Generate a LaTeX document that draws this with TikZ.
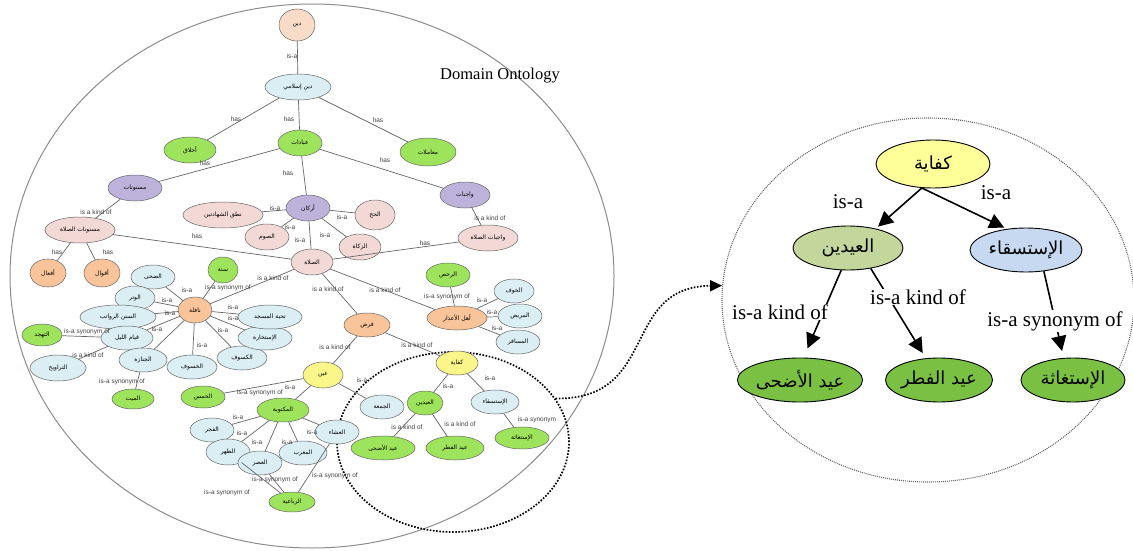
\documentclass[tikz,border=0pt]{standalone}
\usepackage{fontspec}
\setmainfont{Liberation Serif}
\setsansfont{Liberation Sans}
\newfontfamily\arabicfont[Script=Arabic]{DejaVu Sans}
\TeXXeTstate=1
\usetikzlibrary{shapes.geometric,arrows.meta}
\newcommand{\artx}[1]{{\arabicfont\beginR #1\endR}}
\definecolor{cpeach}{HTML}{F8DCC8}
\definecolor{cblue}{HTML}{DAEEF3}
\definecolor{cgreen}{HTML}{9EE35C}
\definecolor{cpurple}{HTML}{BDB3DA}
\definecolor{cpink}{HTML}{F3D9D6}
\definecolor{corange}{HTML}{F9C49A}
\definecolor{cyellow}{HTML}{FBF68A}
\definecolor{ryellow}{HTML}{FFFF99}
\definecolor{rolive}{HTML}{C3D69B}
\definecolor{rblue}{HTML}{C6D9F1}
\definecolor{rgreen}{HTML}{7AC143}
\tikzset{
  ln/.style={ellipse, draw=black!60, line width=0.5pt, inner sep=0pt,
    font=\arabicfont\fontsize{6}{6.5}\selectfont},
  sz/.style 2 args={minimum width=#1pt, minimum height=#2pt},
  le/.style={draw=black!60, line width=0.7pt},
  lbl/.style={font=\sffamily\fontsize{6.5}{7}\selectfont, text=black!75, inner sep=0.5pt},
  rn/.style={ellipse, draw=black, line width=0.9pt, inner sep=0pt,
    font=\arabicfont\fontsize{18}{20}\selectfont},
  rarr/.style={line width=1.6pt, -{Triangle[length=15pt,width=15pt]}},
  rlbl/.style={font=\fontsize{21}{24}\selectfont, fill=white, inner sep=1pt},
}
\begin{document}
\begin{tikzpicture}[x=1pt,y=-1pt]
\useasboundingbox[fill=white] (0,0) rectangle (1133,551);
% big circles
\node[ellipse, draw=black!45, line width=1pt, minimum width=604pt, minimum height=544pt] (lc) at (312,276) {};
\node[ellipse, draw=black!60, line width=1.1pt, dash pattern=on 1pt off 1pt, minimum width=412pt, minimum height=364pt] (rc) at (928,300) {};
\node[ellipse, draw=black, line width=1.7pt, dash pattern=on 1.6pt off 1.6pt, minimum width=232pt, minimum height=180pt] (dotE) at (453,442) {};
\node[font=\fontsize{16.5}{18}\selectfont] (title) at (500,76) {Domain Ontology};

% ---------- left ontology nodes ----------
\node[ln,fill=cpeach,sz={36}{32}] (din) at (297,25) {\artx{دين}};
\node[ln,fill=cblue,sz={66}{26}] (dinIs) at (298,87) {\artx{دين إسلامي}};
\node[ln,fill=cgreen,sz={52}{26}] (akhlaq) at (190,150) {\artx{أخلاق}};
\node[ln,fill=cgreen,sz={56}{28}] (muamalat) at (428,152) {\artx{معاملات}};
\node[ln,fill=cgreen,sz={44}{26}] (ibadat) at (300,143) {\artx{عبادات}};
\node[ln,fill=cpurple,sz={54}{26}] (masnunat) at (135,188) {\artx{مسنونات}};
\node[ln,fill=cpurple,sz={44}{26}] (arkan) at (308,208) {\artx{أركان}};
\node[ln,fill=cpurple,sz={50}{26}] (wajibat) at (465,195) {\artx{واجبات}};
\node[ln,fill=cpink,sz={80}{26}] (nutq) at (223,215) {\artx{نطق الشهادتين}};
\node[ln,fill=cpink,sz={40}{30}] (hajj) at (375,215) {\artx{الحج}};
\node[ln,fill=cpink,sz={44}{26}] (sawm) at (267,237) {\artx{الصوم}};
\node[ln,fill=cpink,sz={42}{26}] (zakat) at (360,247) {\artx{الزكاة}};
\node[ln,fill=cpink,sz={42}{26}] (salat) at (312,262) {\artx{الصلاة}};
\node[ln,fill=cpink,sz={60}{26}] (wajSalat) at (488,238) {\artx{واجبات الصلاة}};
\node[ln,fill=cpink,sz={70}{26}] (masSalat) at (80,230) {\artx{مسنونات الصلاة}};
\node[ln,fill=corange,sz={36}{28}] (afal) at (48,273) {\artx{أفعال}};
\node[ln,fill=corange,sz={36}{28}] (aqwal) at (102,273) {\artx{أقوال}};
\node[ln,fill=cgreen,sz={30}{26}] (sunna) at (223,270) {\artx{سنة}};
\node[ln,fill=cblue,sz={44}{24}] (duha) at (153,277) {\artx{الضحى}};
\node[ln,fill=cblue,sz={40}{24}] (witr) at (135,298) {\artx{الوتر}};
\node[ln,fill=corange,sz={34}{26}] (nafila) at (195,310) {\artx{نافلة}};
\node[ln,fill=cblue,sz={76}{24}] (rawatib) at (118,317) {\artx{السنن الرواتب}};
\node[ln,fill=cgreen,sz={40}{22}] (tahajjud) at (42,335) {\artx{التهجد}};
\node[ln,fill=cblue,sz={52}{24}] (qiyam) at (127,338) {\artx{قيام الليل}};
\node[ln,fill=cblue,sz={48}{24}] (janaza) at (143,360) {\artx{الجنازة}};
\node[ln,fill=cblue,sz={56}{26}] (tarawih) at (58,368) {\artx{التراويح}};
\node[ln,fill=cblue,sz={50}{24}] (khusuf) at (192,367) {\artx{الخسوف}};
\node[ln,fill=cblue,sz={50}{24}] (kusuf) at (242,358) {\artx{الكسوف}};
\node[ln,fill=cblue,sz={54}{24}] (istikhara) at (265,338) {\artx{الإستخارة}};
\node[ln,fill=cblue,sz={64}{24}] (tahiyya) at (270,317) {\artx{تحية المسجد}};
\node[ln,fill=cgreen,sz={42}{20}] (mayyit) at (133,399) {\artx{الميت}};
\node[ln,fill=cgreen,sz={44}{24}] (rukhas) at (448,275) {\artx{الرخص}};
\node[ln,fill=corange,sz={60}{24}] (ahl) at (457,318) {\artx{أهل الأعذار}};
\node[ln,fill=cblue,sz={40}{24}] (khawf) at (514,291) {\artx{الخوف}};
\node[ln,fill=cblue,sz={44}{24}] (marid) at (520,316) {\artx{المريض}};
\node[ln,fill=cblue,sz={44}{24}] (musafir) at (518,342) {\artx{المسافر}};
\node[ln,fill=corange,sz={46}{24}] (fard) at (367,325) {\artx{فرض}};
\node[ln,fill=cyellow,sz={42}{24}] (kifaya) at (457,363) {\artx{كفاية}};
\node[ln,fill=cyellow,sz={40}{26}] (ayn) at (323,375) {\artx{عين}};
\node[ln,fill=cgreen,sz={44}{22}] (khams) at (203,397) {\artx{الخمس}};
\node[ln,fill=cgreen,sz={52}{24}] (maktuba) at (283,410) {\artx{المكتوبة}};
\node[ln,fill=cblue,sz={44}{24}] (jumua) at (382,407) {\artx{الجمعة}};
\node[ln,fill=cblue,sz={44}{24}] (fajr) at (212,430) {\artx{الفجر}};
\node[ln,fill=cblue,sz={44}{26}] (zuhr) at (228,452) {\artx{الظهر}};
\node[ln,fill=cblue,sz={44}{24}] (asr) at (260,463) {\artx{العصر}};
\node[ln,fill=cblue,sz={48}{24}] (maghrib) at (303,453) {\artx{المغرب}};
\node[ln,fill=cblue,sz={44}{24}] (isha) at (337,432) {\artx{العشاء}};
\node[ln,fill=cgreen,sz={46}{20}] (rubaiya) at (292,502) {\artx{الرباعية}};
\node[ln,fill=cgreen,sz={36}{24}] (idayn) at (425,403) {\artx{العيدين}};
\node[ln,fill=cblue,sz={48}{24}] (istisqa) at (495,402) {\artx{الإستسقاء}};
\node[ln,fill=cgreen,sz={64}{24}] (adha) at (383,448) {\artx{عيد الأضحى}};
\node[ln,fill=cgreen,sz={58}{24}] (fitr) at (455,448) {\artx{عيد الفطر}};
\node[ln,fill=cgreen,sz={54}{22}] (istighatha) at (522,438) {\artx{الإستغاثة}};

% ---------- left edges ----------
\draw[le] (din) -- (dinIs);
\draw[le] (dinIs) -- (akhlaq);
\draw[le] (dinIs) -- (muamalat);
\draw[le] (dinIs) -- (ibadat);
\draw[le] (ibadat) -- (masnunat);
\draw[le] (ibadat) -- (arkan);
\draw[le] (ibadat) -- (wajibat);
\draw[le] (arkan) -- (nutq);
\draw[le] (arkan) -- (hajj);
\draw[le] (arkan) -- (sawm);
\draw[le] (arkan) -- (zakat);
\draw[le] (arkan) -- (salat);
\draw[le] (masnunat) -- (masSalat);
\draw[le] (wajibat) -- (wajSalat);
\draw[le] (masSalat) -- (afal);
\draw[le] (masSalat) -- (aqwal);
\draw[le] (masSalat) -- (salat);
\draw[le] (wajSalat) -- (salat);
\draw[le] (salat) -- (nafila);
\draw[le] (salat) -- (fard);
\draw[le] (salat) -- (ahl);
\foreach \t in {sunna,duha,witr,rawatib,qiyam,janaza,khusuf,kusuf,istikhara,tahiyya}
  \draw[le] (nafila) -- (\t);
\draw[le] (qiyam) -- (tahajjud);
\draw[le] (qiyam) -- (tarawih);
\draw[le] (janaza) -- (mayyit);
\foreach \t in {rukhas,khawf,marid,musafir}
  \draw[le] (ahl) -- (\t);
\draw[le] (fard) -- (ayn);
\draw[le] (fard) -- (kifaya);
\draw[le] (ayn) -- (khams);
\draw[le] (ayn) -- (maktuba);
\draw[le] (ayn) -- (jumua);
\foreach \t in {fajr,zuhr,asr,maghrib,isha}
  \draw[le] (maktuba) -- (\t);
\draw[le] (zuhr) -- (rubaiya);
\draw[le] (asr) -- (rubaiya);
\draw[le] (isha) -- (rubaiya);
\draw[le] (kifaya) -- (idayn);
\draw[le] (kifaya) -- (istisqa);
\draw[le] (idayn) -- (adha);
\draw[le] (idayn) -- (fitr);
\draw[le] (istisqa) -- (istighatha);

% ---------- left labels ----------
\node[lbl] (l1) at (292,56) {is-a};
\node[lbl] (l2) at (236,119) {has};
\node[lbl] (l3) at (378,120) {has};
\node[lbl] (l4) at (289,119) {has};
\node[lbl] (l5) at (205,163) {has};
\node[lbl] (l6) at (288,173) {has};
\node[lbl] (l7) at (385,160) {has};
\node[lbl] (l8) at (275,208) {is-a};
\node[lbl] (l9) at (290,227) {is-a};
\node[lbl] (l10) at (300,240) {is-a};
\node[lbl] (l11) at (342,217) {is-a};
\node[lbl] (l12) at (325,235) {is-a};
\node[lbl] (l13) at (96,212) {is a kind of};
\node[lbl] (l14) at (490,218) {is a kind of};
\node[lbl] (l15) at (57,252) {has};
\node[lbl] (l16) at (108,252) {has};
\node[lbl] (l17) at (197,236) {has};
\node[lbl] (l18) at (425,243) {has};
\node[lbl] (l19) at (273,278) {is a kind of};
\node[lbl] (l20) at (328,289) {is a kind of};
\node[lbl] (l21) at (385,290) {is a kind of};
\node[lbl] (l22) at (228,288) {is-a synonym of};
\node[lbl] (l23) at (187,290) {is-a};
\node[lbl] (l24) at (167,300) {is-a};
\node[lbl] (l25) at (170,313) {is-a};
\node[lbl] (l26) at (157,329) {is-a};
\node[lbl] (l27) at (233,307) {is-a};
\node[lbl] (l28) at (233,318) {is-a};
\node[lbl] (l29) at (223,330) {is-a};
\node[lbl] (l30) at (202,345) {is-a};
\node[lbl] (l31) at (87,332) {is-a synonym of};
\node[lbl] (l32) at (88,355) {is a kind of};
\node[lbl] (l33) at (122,382) {is-a synonym of};
\node[lbl] (l34) at (447,297) {is-a synonym of};
\node[lbl] (l35) at (482,300) {is-a};
\node[lbl] (l36) at (492,312) {is-a};
\node[lbl] (l37) at (497,328) {is-a};
\node[lbl] (l38) at (417,345) {is a kind of};
\node[lbl] (l39) at (335,347) {is a kind of};
\node[lbl] (l40) at (260,393) {is-a synonym of};
\node[lbl] (l41) at (290,387) {is-a};
\node[lbl] (l42) at (362,380) {is-a};
\node[lbl] (l43) at (238,417) {is-a};
\node[lbl] (l44) at (242,433) {is-a};
\node[lbl] (l45) at (257,442) {is-a};
\node[lbl] (l46) at (287,442) {is-a};
\node[lbl] (l47) at (312,432) {is-a};
\node[lbl] (l48) at (227,493) {is-a synonym of};
\node[lbl] (l49) at (275,480) {is-a synonym of};
\node[lbl] (l50) at (335,476) {is-a synonym of};
\node[lbl] (l51) at (448,386) {is-a};
\node[lbl] (l52) at (490,378) {is-a};
\node[lbl] (l53) at (407,427) {is a kind of};
\node[lbl] (l54) at (460,424) {is a kind of};
\node[lbl] (l55) at (537,420) {is-a synonym};

% ---------- zoom connector ----------
\draw[line width=1.7pt, dash pattern=on 1.6pt off 1.6pt, -{Triangle[length=12pt,width=11pt]}]
  (dotE.23) .. controls (660,400) and (620,287) .. (rc.176);

% ---------- right detail ----------
\node[rn,fill=ryellow,sz={114}{48}] (kr) at (933,164) {\artx{كفاية}};
\node[rn,fill=rolive,sz={110}{44}] (ir) at (848,248) {\artx{العيدين}};
\node[rn,fill=rblue,sz={112}{44}] (sr) at (1026,250) {\artx{الإستسقاء}};
\node[rn,fill=rgreen,sz={114}{44}] (ar) at (800,380) {\artx{عيد الأضحى}};
\node[rn,fill=rgreen,sz={98}{44}] (fr) at (939,380) {\artx{عيد الفطر}};
\node[rn,fill=rgreen,sz={104}{44}] (gr) at (1073,380) {\artx{الإستغاثة}};
\draw[rarr, shorten >=3pt] (kr.245) -- (ir.35);
\draw[rarr, shorten >=3pt] (kr.245) -- (sr.132);
\draw[rarr, shorten >=10pt] (ir.253) -- (ar.81);
\draw[rarr, shorten >=6pt] (ir.318) -- (fr.121);
\draw[rarr, shorten >=7pt] (sr.310) -- (gr.113);
\node[rlbl] (r1) at (848,202) {is-a};
\node[rlbl] (r2) at (996,193) {is-a};
\node[rlbl] (r3) at (780,312) {is-a kind of};
\node[rlbl] (r4) at (918,297) {is-a kind of};
\node[rlbl] (r5) at (1055,321) {is-a synonym of};
\end{tikzpicture}
\end{document}
